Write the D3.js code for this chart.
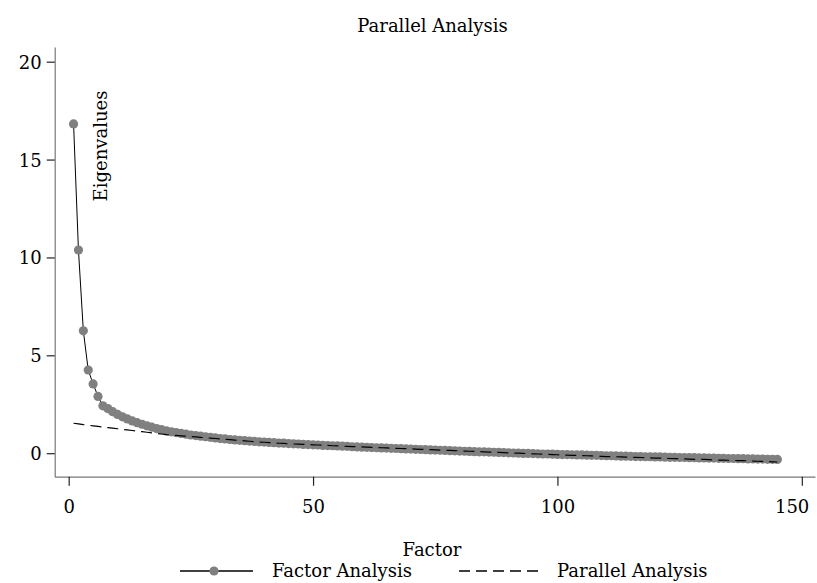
<!DOCTYPE html>
<html><head><meta charset="utf-8">
<script src="https://cdn.jsdelivr.net/npm/d3@7"></script>
<style>
body{margin:0;background:#fff;}
svg{display:block;}
text{font-family:"DejaVu Serif",serif;font-size:18px;fill:#000;}
</style></head>
<body>
<svg id="c" width="817" height="583"></svg>
<script>
const title = "Parallel Analysis";
const xTitle = "Factor";
const yTitle = "Eigenvalues";
const seriesNames = ["Factor Analysis", "Parallel Analysis"];
const xTicks = [0, 50, 100, 150];
const yTicks = [0, 5, 10, 15, 20];

const faEigen = [
 16.82, 10.38, 6.25, 4.25, 3.54, 2.90, 2.42, 2.28, 2.12, 1.98,
 1.86, 1.75, 1.65, 1.56, 1.48, 1.40, 1.33, 1.26, 1.20, 1.14,
 1.09, 1.05, 1.01, 0.97, 0.93, 0.90, 0.87, 0.84, 0.81, 0.78,
 0.75, 0.73, 0.70, 0.68, 0.66, 0.64, 0.62, 0.60, 0.58, 0.57,
 0.55, 0.54, 0.52, 0.51, 0.49, 0.48, 0.47, 0.45, 0.44, 0.43,
 0.42, 0.40, 0.39, 0.38, 0.37, 0.36, 0.35, 0.33, 0.32, 0.31,
 0.30, 0.29, 0.28, 0.27, 0.26, 0.25, 0.24, 0.23, 0.22, 0.21,
 0.20, 0.19, 0.18, 0.17, 0.16, 0.15, 0.14, 0.13, 0.12, 0.11,
 0.10, 0.09, 0.08, 0.07, 0.07, 0.06, 0.05, 0.04, 0.03, 0.02,
 0.01, 0.00, -0.01, -0.01, -0.02, -0.03, -0.04, -0.04, -0.05, -0.06,
 -0.07, -0.07, -0.08, -0.09, -0.09, -0.10, -0.11, -0.11, -0.12, -0.13,
 -0.13, -0.14, -0.15, -0.15, -0.16, -0.17, -0.17, -0.18, -0.18, -0.19,
 -0.19, -0.20, -0.21, -0.21, -0.22, -0.22, -0.23, -0.23, -0.24, -0.24,
 -0.25, -0.25, -0.26, -0.26, -0.27, -0.27, -0.28, -0.28, -0.29, -0.29,
 -0.30, -0.30, -0.31, -0.31, -0.32
];
const paEigen = [
 1.53, 1.50, 1.46, 1.43, 1.40, 1.37, 1.34, 1.31, 1.28, 1.25,
 1.22, 1.19, 1.16, 1.13, 1.10, 1.07, 1.04, 1.01, 0.98, 0.95,
 0.93, 0.91, 0.89, 0.87, 0.85, 0.83, 0.81, 0.79, 0.77, 0.75,
 0.73, 0.71, 0.69, 0.67, 0.65, 0.63, 0.61, 0.59, 0.57, 0.56,
 0.54, 0.53, 0.51, 0.50, 0.48, 0.47, 0.46, 0.45, 0.44, 0.43,
 0.42, 0.41, 0.40, 0.38, 0.37, 0.36, 0.35, 0.34, 0.33, 0.32,
 0.31, 0.30, 0.29, 0.28, 0.27, 0.26, 0.25, 0.24, 0.23, 0.22,
 0.21, 0.20, 0.19, 0.18, 0.17, 0.16, 0.15, 0.14, 0.13, 0.12,
 0.11, 0.10, 0.09, 0.08, 0.07, 0.06, 0.05, 0.04, 0.03, 0.02,
 0.01, 0.00, -0.01, -0.02, -0.03, -0.04, -0.05, -0.06, -0.07, -0.08,
 -0.09, -0.10, -0.11, -0.11, -0.12, -0.13, -0.14, -0.15, -0.16, -0.17,
 -0.17, -0.18, -0.19, -0.20, -0.21, -0.21, -0.22, -0.23, -0.24, -0.25,
 -0.25, -0.26, -0.27, -0.28, -0.28, -0.29, -0.30, -0.31, -0.32, -0.32,
 -0.33, -0.34, -0.35, -0.35, -0.36, -0.37, -0.38, -0.38, -0.39, -0.40,
 -0.41, -0.42, -0.43, -0.44, -0.45
];

const svg = d3.select("#c");
const x = d3.scaleLinear().domain([-2.86, 152.7]).range([54.7, 815]);
const y = d3.scaleLinear().domain([-1.2, 20.75]).range([476.7, 47]);

const ptColor = "#808080";

// axes
const gx = svg.append("g").attr("transform", "translate(0,476.7)")
  .call(d3.axisBottom(x).tickValues(xTicks).tickSizeInner(9).tickSizeOuter(0).tickPadding(8).tickFormat(d3.format("d")));
const gy = svg.append("g").attr("transform", "translate(54.7,0)")
  .call(d3.axisLeft(y).tickValues(yTicks).tickSizeInner(8).tickSizeOuter(0).tickPadding(5).tickFormat(d3.format("d")));
[gx, gy].forEach(g => {
  g.select(".domain").attr("stroke", "#777").attr("stroke-width", 1.2);
  g.selectAll(".tick line").attr("stroke", "#222").attr("stroke-width", 1.2);
  g.selectAll(".tick text").style("font-family", "DejaVu Serif, serif").style("font-size", "18px").attr("fill", "#000");
});
gx.selectAll(".tick text").attr("dy", "1.05em");
gy.selectAll(".tick text").attr("dy", "0.36em");
// keep last x label inside the canvas
gx.selectAll(".tick text").filter(d => d === xTicks[xTicks.length - 1])
  .attr("text-anchor", "end").attr("x", 7);

const fa = faEigen.map((v, i) => ({n: i + 1, v}));
const pa = paEigen.map((v, i) => ({n: i + 1, v}));
const line = d3.line().x(d => x(d.n)).y(d => y(d.v));

svg.append("path").datum(fa).attr("d", line)
  .attr("fill", "none").attr("stroke", "#000").attr("stroke-width", 1);
svg.append("g").selectAll("circle").data(fa).join("circle")
  .attr("cx", d => x(d.n)).attr("cy", d => y(d.v)).attr("r", 4.6).attr("fill", ptColor);
svg.append("path").datum(pa).attr("d", line)
  .attr("fill", "none").attr("stroke", "#000").attr("stroke-width", 1.2)
  .attr("stroke-dasharray", "11,6");

// titles
svg.append("text").attr("x", 432.5).attr("y", 32).attr("text-anchor", "middle").text(title);
svg.append("text").attr("x", 432).attr("y", 556).attr("text-anchor", "middle").text(xTitle);
svg.append("text").attr("transform", "translate(107,146) rotate(-90)").attr("text-anchor", "middle").text(yTitle);

// legend
const ly = 571;
svg.append("line").attr("x1", 180).attr("x2", 253).attr("y1", ly).attr("y2", ly).attr("stroke", "#000").attr("stroke-width", 1.5);
svg.append("circle").attr("cx", 214).attr("cy", ly).attr("r", 4.6).attr("fill", ptColor);
svg.append("text").attr("x", 272).attr("y", ly + 6).text(seriesNames[0]);
svg.append("line").attr("x1", 459).attr("x2", 543).attr("y1", ly).attr("y2", ly).attr("stroke", "#000").attr("stroke-width", 1.5).attr("stroke-dasharray", "11,6");
svg.append("text").attr("x", 557).attr("y", ly + 6).text(seriesNames[1]);
</script>
</body></html>
